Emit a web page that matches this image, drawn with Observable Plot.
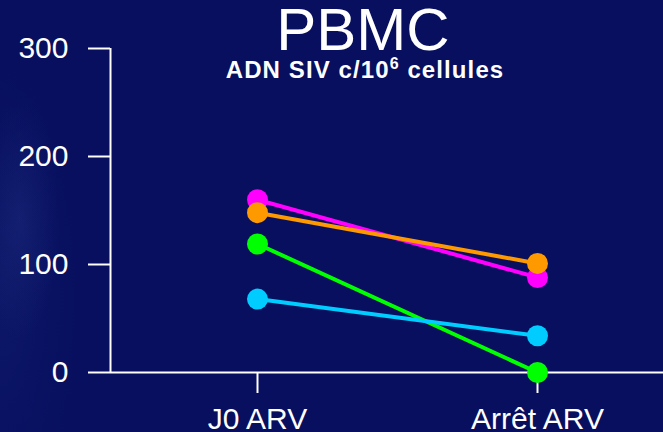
<!DOCTYPE html>
<html>
<head>
<meta charset="utf-8">
<script src="https://cdn.jsdelivr.net/npm/d3@7"></script>
<script src="https://cdn.jsdelivr.net/npm/@observablehq/plot@0.6"></script>
<style>
  html, body { margin: 0; padding: 0; }
  body {
    width: 663px; height: 432px; overflow: hidden; position: relative;
    background: #070f5e;
    font-family: "Liberation Sans", Arial, sans-serif;
  }
  #bg {
    position: absolute; left: 0; top: 0; width: 663px; height: 432px;
    background:
      radial-gradient(ellipse 40px 120px at 20px 220px, rgba(60,80,170,0.18), rgba(60,80,170,0) 100%),
      radial-gradient(ellipse 80px 240px at 0px 300px, rgba(40,60,150,0.18), rgba(40,60,150,0) 100%);
  }
  #chart { position: absolute; left: 0; top: 0; }
  #chart svg { background: transparent; }
  .title {
    position: absolute; left: 363px; top: -6px; transform: translateX(-50%);
    color: #fff; font-size: 60px; white-space: nowrap; line-height: 72px;
  }
  .subtitle {
    position: absolute; left: 365px; top: 58px; transform: translateX(-50%);
    color: #fff; font-size: 24px; font-weight: bold; white-space: nowrap; line-height: 24px;
    letter-spacing: 1.1px;
  }
  .subtitle sup { font-size: 16px; vertical-align: 9px; line-height: 0; }
</style>
</head>
<body>
<div id="bg"></div>
<div id="chart"></div>
<div class="title">PBMC</div>
<div class="subtitle">ADN SIV c/10<sup>6</sup> cellules</div>
<script>
const categories = ["J0 ARV", "Arrêt ARV"];
const yTicks = [0, 100, 200, 300];
const seriesNames = ["magenta", "orange", "vert", "cyan"];
const seriesColors = ["#ff00ff", "#ff9900", "#00ff00", "#00ccff"];
const magentaValues = [160, 88];
const orangeValues = [148, 101];
const greenValues = [119, 0];
const cyanValues = [68, 34];

const allValues = [magentaValues, orangeValues, greenValues, cyanValues];
const data = [];
seriesNames.forEach((s, i) => {
  categories.forEach((c, j) => data.push({series: s, cat: c, value: allValues[i][j]}));
});

const plot = Plot.plot({
  width: 663,
  height: 432,
  marginTop: 48,
  marginBottom: 60,
  marginLeft: 110,
  marginRight: 0,
  style: {background: "transparent", color: "#fff", fontFamily: "'Liberation Sans', Arial, sans-serif"},
  x: {type: "point", domain: categories, range: [257, 537], padding: 0},
  y: {domain: [0, 300]},
  color: {domain: seriesNames, range: seriesColors},
  marks: [
    Plot.ruleY([0], {stroke: "#fff", strokeWidth: 2}),
    Plot.ruleX([categories[0]], {y1: 0, y2: 300, dx: -147, stroke: "#fff", strokeWidth: 2}),
    Plot.axisY({ticks: yTicks, tickSize: 22, tickPadding: 20, fontSize: 30, stroke: "#fff", strokeWidth: 2, strokeOpacity: 1, label: null, tickFormat: d => String(d)}),
    Plot.axisX({tickSize: 21, tickPadding: 14, fontSize: 30, stroke: "#fff", strokeWidth: 2, strokeOpacity: 1, label: null}),
    Plot.line(data, {x: "cat", y: "value", z: "series", stroke: "series", strokeWidth: 4}),
    Plot.dot(data, {x: "cat", y: "value", fill: "series", r: 10.5})
  ]
});
document.getElementById("chart").appendChild(plot);
</script>
</body>
</html>
